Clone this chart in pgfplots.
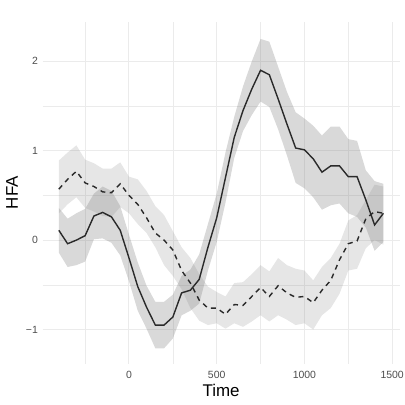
\documentclass[border=0pt]{standalone}
\usepackage{fontspec}
\setmainfont{Liberation Sans}
\usepackage{pgfplots}
\pgfplotsset{compat=1.18}
\usepackage{pgfplotstable}
\usepgfplotslibrary{fillbetween}

\definecolor{gridc}{HTML}{EBEBEB}
\definecolor{tickc}{HTML}{4D4D4D}
\definecolor{linec}{HTML}{2A2A2A}

% solid condition: mean, lower and upper ribbon edge
\pgfplotstableread{
t m lo hi
-400 0.11 -0.14 0.36
-350 -0.04 -0.30 0.24
-300 0.00 -0.28 0.30
-250 0.05 -0.24 0.35
-200 0.27 0.01 0.52
-150 0.31 0.02 0.60
-100 0.26 -0.03 0.55
-50 0.11 -0.17 0.38
0 -0.20 -0.46 0.06
50 -0.52 -0.79 -0.25
100 -0.75 -0.99 -0.51
150 -0.95 -1.21 -0.69
200 -0.95 -1.21 -0.69
250 -0.86 -1.10 -0.61
300 -0.59 -0.84 -0.40
350 -0.56 -0.79 -0.33
400 -0.44 -0.71 -0.16
450 -0.08 -0.34 0.18
500 0.25 -0.02 0.52
550 0.70 0.42 0.98
600 1.15 0.92 1.38
650 1.45 1.22 1.72
700 1.69 1.40 2.00
750 1.90 1.55 2.25
800 1.85 1.49 2.22
850 1.58 1.24 1.94
900 1.30 0.95 1.66
950 1.03 0.64 1.43
1000 1.01 0.58 1.36
1050 0.91 0.48 1.28
1100 0.76 0.34 1.17
1150 0.83 0.39 1.27
1200 0.83 0.41 1.27
1250 0.71 0.30 1.13
1300 0.71 0.26 1.11
1350 0.45 0.14 0.78
1400 0.17 -0.12 0.66
1450 0.30 -0.02 0.63
}\solidtab

% dashed condition
\pgfplotstableread{
t m lo hi
-400 0.57 0.30 0.89
-350 0.68 0.40 0.98
-300 0.77 0.48 1.06
-250 0.64 0.36 0.90
-200 0.60 0.32 0.86
-150 0.54 0.27 0.80
-100 0.53 0.26 0.80
-50 0.63 0.37 0.87
0 0.50 0.30 0.71
50 0.40 0.18 0.68
100 0.25 0.08 0.55
150 0.08 -0.08 0.38
200 0.00 -0.28 0.28
250 -0.11 -0.40 0.10
300 -0.34 -0.55 -0.08
350 -0.48 -0.76 -0.20
400 -0.67 -0.90 -0.38
450 -0.76 -0.95 -0.52
500 -0.76 -0.93 -0.58
550 -0.83 -0.99 -0.63
600 -0.72 -0.93 -0.48
650 -0.73 -0.97 -0.47
700 -0.63 -0.91 -0.38
750 -0.53 -0.84 -0.28
800 -0.63 -0.91 -0.35
850 -0.51 -0.84 -0.20
900 -0.59 -0.89 -0.28
950 -0.64 -0.95 -0.32
1000 -0.63 -0.93 -0.34
1050 -0.70 -1.00 -0.45
1100 -0.56 -0.84 -0.30
1150 -0.45 -0.76 -0.20
1200 -0.22 -0.60 -0.04
1250 -0.04 -0.34 0.22
1300 -0.01 -0.32 0.28
1350 0.24 -0.09 0.45
1400 0.32 0.00 0.62
1450 0.30 -0.05 0.60
}\dashtab

\begin{document}
\begin{tikzpicture}
\begin{axis}[
    at={(0,0)}, anchor=south west,
    scale only axis,
    width=357bp, height=341.5bp,
    xmin=-492.5, xmax=1542.5,
    ymin=-1.38, ymax=2.44,
    axis line style={draw=none},
    tick style={draw=none},
    xtick={0,500,1000,1500},
    xticklabels={0,500,1000,1500},
    ytick={-1,0,1,2},
    yticklabels={−1,0,1,2},
    minor xtick={-250,250,750,1250},
    minor ytick={-0.5,0.5,1.5},
    grid=both,
    major grid style={draw=gridc, line width=1bp},
    minor grid style={draw=gridc, line width=0.6bp},
    ticklabel style={font=\fontsize{10.5}{12}\selectfont, text=tickc, inner sep=0pt},
    xticklabel style={anchor=north, yshift=-7.5bp},
    yticklabel style={anchor=east, xshift=-4.5bp},
    xlabel={Time},
    ylabel={HFA},
    label style={font=\fontsize{17}{20}\selectfont, inner sep=0pt},
    xlabel style={at={(axis description cs:0.5,-0.0776)}, anchor=center},
    ylabel style={at={(axis description cs:-0.0857,0.5)}, anchor=center},
]
% ribbons
\addplot[name path=sh, draw=none, forget plot] table[x=t, y=hi] {\solidtab};
\addplot[name path=sl, draw=none, forget plot] table[x=t, y=lo] {\solidtab};
\addplot[name path=dh, draw=none, forget plot] table[x=t, y=hi] {\dashtab};
\addplot[name path=dl, draw=none, forget plot] table[x=t, y=lo] {\dashtab};
\addplot[fill=gray, fill opacity=0.30, draw=none] fill between[of=sh and sl];
\addplot[fill=gray, fill opacity=0.20, draw=none] fill between[of=dh and dl];
% means
\addplot[linec, line width=1.4bp] table[x=t, y=m] {\solidtab};
\addplot[linec, line width=1.4bp, dash pattern=on 5bp off 4.5bp] table[x=t, y=m] {\dashtab};
\end{axis}
\pgfresetboundingbox
\useasboundingbox (-42.6bp,-41.5bp) rectangle (362.4bp,363.5bp);
\end{tikzpicture}
\end{document}
